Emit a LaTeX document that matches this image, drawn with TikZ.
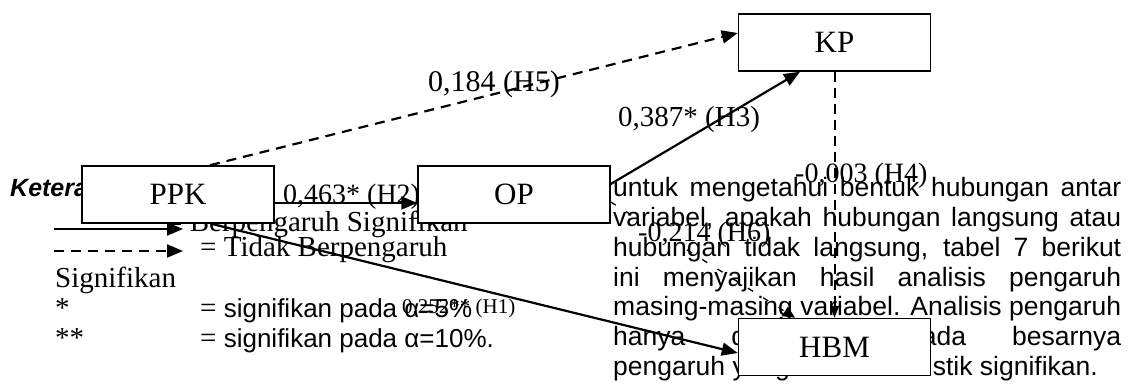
\documentclass[tikz,border=0pt]{standalone}
\usepackage{fontspec}
\setmainfont{Liberation Serif}
\newfontfamily\arial{Liberation Sans}
\usetikzlibrary{arrows.meta,calc}
\pgfdeclarelayer{back}
\pgfdeclarelayer{text}
\pgfsetlayers{back,text,main}
\newcommand\setfs[1]{\fontsize{#1}{#1}\selectfont}

\begin{document}
\begin{tikzpicture}[x=1pt,y=-1pt,
  box/.style={draw, line width=1.5pt, fill=white, minimum width=192pt,
    minimum height=57pt, inner sep=0pt, font=\setfs{31}},
  sig/.style={line width=2.2pt, -{Triangle[length=16pt,width=13pt]}},
  nsig/.style={sig, dash pattern=on 10pt off 7pt},
  nsigthin/.style={line width=2pt, dash pattern=on 10pt off 6pt,
    -{Triangle[length=12pt,width=9pt]}},
  nsigdot/.style={line width=1.3pt, dash pattern=on 6pt off 12pt,
    -{Triangle[length=12pt,width=11pt]}},
  txt/.style={inner sep=0pt, anchor=base west},
  para/.style={txt, font=\arial\setfs{26.5}},
  coef/.style={txt, font=\setfs{29}}]
\useasboundingbox (0,0) rectangle (1134,387);

% variable boxes
\node[box] (ppk) at (178,194.5) {PPK};
\node[box] (op)  at (514,194.5) {OP};
\node[box] (kp)  at (834.5,42.5) {KP};
\node[box] (hbm) at (834.5,347) {HBM};

\begin{pgfonlayer}{back}
  % legend
  \node[txt, font=\arial\bfseries\itshape\setfs{25}] (ket) at (10,197) {Keterangan:};
  \coordinate (ls1) at (54,229);
  \coordinate (ls2) at (183,229);
  \coordinate (ld1) at (54,251);
  \coordinate (ld2) at (183,251);
  \draw[sig]  (ls1) -- (ls2);
  \draw[nsig] (ld1) -- (ld2);
  \node[txt, font=\setfs{29}] (lsig) at (166,232) {= Berpengaruh Signifikan};
  \node[txt, font=\setfs{29}] (lnsig) at (200,257) {= Tidak Berpengaruh};
  \node[txt, font=\setfs{29}] (lsg) at (55,287) {Signifikan};
  \node[txt, font=\setfs{29}] (ls5) at (55,317) {*};
  \node[txt, font=\setfs{29}] (ls10) at (55,347) {**};
  \node[txt, font=\setfs{29}] (lv5) at (200,317) {= {\arial\setfs{26}signifikan pada α=5\%}};
  \node[txt, font=\setfs{29}] (lv10) at (200,347) {= {\arial\setfs{26}signifikan pada α=10\%.}};

  % paths
  \draw[sig]  ([yshift=-8.5pt]ppk.east) -- ([yshift=-8.5pt]op.west);
  \draw[sig]  ([xshift=33pt]ppk.south) -- ([yshift=-6pt]hbm.west);
  \draw[sig]  ([yshift=10.5pt]op.east) -- ([xshift=-34.5pt]kp.south);
  \draw[nsig] ([xshift=32pt]ppk.north) -- ([yshift=9.5pt]kp.west);
  \draw[nsigthin] (kp.south) -- (hbm.north);
  \draw[nsigdot] ([yshift=-7.5pt]op.east) -- ([xshift=-39.5pt]hbm.north);

  % path coefficients
  \node[coef, font=\setfs{30}] (c5) at (428,92) {0,184 (H5)};
  \node[coef] (c3) at (618,127) {0,387* (H3)};
  \node[coef, font=\setfs{28}] (c2) at (283,204) {0,463* (H2)};
  \node[coef, font=\setfs{28}] (c4) at (795,183) {-0,003 (H4)};
  \node[coef, font=\setfs{28}, fill=white, inner sep=1pt] (c6) at (637,241) {-0,214 (H6)};
  \node[coef, font=\setfs{21}] (c1) at (402,313) {0,252** (H1)};
\end{pgfonlayer}

\begin{pgfonlayer}{text}
  \node[para] (p1) at (613,197)   {\makebox[508pt][s]{untuk mengetahui bentuk hubungan antar}};
  \node[para] (p2) at (613,226.7) {\makebox[508pt][s]{variabel, apakah hubungan langsung atau}};
  \node[para] (p3) at (613,256.4) {\makebox[508pt][s]{hubungan tidak langsung, tabel 7 berikut}};
  \node[para] (p4) at (613,286.1) {\makebox[508pt][s]{ini menyajikan hasil analisis pengaruh}};
  \node[para] (p5) at (613,315.8) {\makebox[508pt][s]{masing-masing variabel. Analisis pengaruh}};
  \node[para] (p6) at (613,345.5) {\makebox[508pt][s]{hanya didasarkan pada besarnya}};
  \node[para] (p7) at (613,375.2) {pengaruh yang secara statistik signifikan.};
\end{pgfonlayer}
\end{tikzpicture}
\end{document}
